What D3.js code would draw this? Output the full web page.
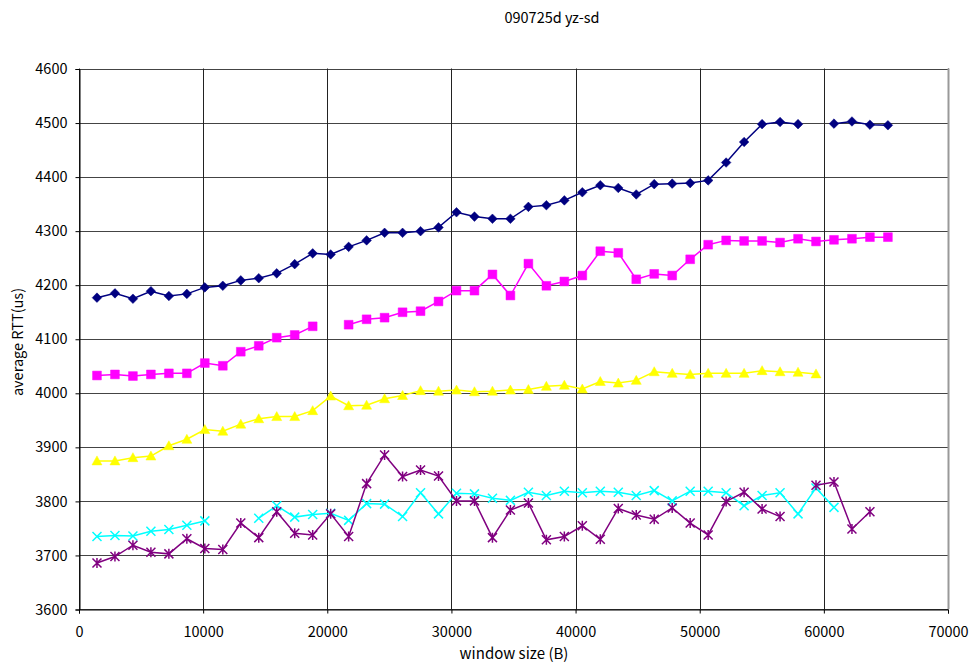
<!DOCTYPE html>
<html>
<head>
<meta charset="utf-8">
<script src="https://cdn.jsdelivr.net/npm/d3@7"></script>
<style>
  body { margin: 0; background: #fff; }
  svg text { font-family: "Noto Sans CJK JP", "Noto Sans", sans-serif; fill: #000; }
</style>
</head>
<body>
<svg id="chart" width="970" height="662"></svg>
<script>
// window sizes (B)
var windowSizes = [1448, 2896, 4344, 5792, 7240, 8688, 10136, 11584, 13032, 14480,
  15928, 17376, 18824, 20272, 21720, 23168, 24616, 26064, 27512, 28960,
  30408, 31856, 33304, 34752, 36200, 37648, 39096, 40544, 41992, 43440,
  44888, 46336, 47784, 49232, 50680, 52128, 53576, 55024, 56472, 57920,
  59368, 60816, 62264, 63712, 65160];

var navyRtt = [4176, 4184, 4174, 4188, 4179, 4183, 4195, 4198, 4208, 4212,
  4221, 4238, 4258, 4256, 4270, 4282, 4296, 4296, 4299, 4306,
  4334, 4326, 4322, 4322, 4344, 4347, 4356, 4371, 4384, 4379,
  4367, 4386, 4387, 4388, 4393, 4426, 4464, 4497, 4501, 4497,
  null, 4498, 4502, 4496, 4495];
var magentaRtt = [4032, 4034, 4031, 4034, 4036, 4036, 4055, 4050, 4076, 4087,
  4102, 4107, 4123, null, 4126, 4136, 4139, 4149, 4151, 4169,
  4189, 4189, 4219, 4180, 4239, 4198, 4206, 4217, 4262, 4259,
  4210, 4220, 4217, 4247, 4274, 4282, 4281, 4281, 4278, 4285,
  4280, 4283, 4285, 4288, 4288];
var yellowRtt = [3874, 3874, 3880, 3883, 3902, 3914, 3932, 3929, 3942, 3952,
  3956, 3956, 3967, 3994, 3976, 3977, 3989, 3995, 4004, 4003,
  4005, 4002, 4003, 4005, 4006, 4012, 4014, 4007, 4021, 4018,
  4023, 4039, 4036, 4034, 4036, 4036, 4036, 4041, 4039, 4038,
  4035, null, null, null, null];
var cyanRtt = [3734, 3736, 3735, 3744, 3747, 3755, 3763, null, null, 3768,
  3791, 3770, 3775, 3777, 3764, 3795, 3794, 3771, 3815, 3776,
  3814, 3813, 3805, 3801, 3816, 3810, 3818, 3815, 3818, 3816,
  3810, 3819, 3800, 3818, 3818, 3815, 3791, 3810, 3815, 3776,
  3824, 3788, null, null, null];
var purpleRtt = [3685, 3697, 3718, 3705, 3702, 3730, 3712, 3710, 3759, 3732,
  3780, 3740, 3737, 3776, 3734, 3832, 3885, 3845, 3857, 3846,
  3800, 3800, 3732, 3783, 3796, 3728, 3734, 3754, 3729, 3786,
  3774, 3766, 3787, 3759, 3737, 3799, 3816, 3785, 3771, null,
  3829, 3835, 3748, 3780, null];

var xTicks = [0, 10000, 20000, 30000, 40000, 50000, 60000, 70000];
var yTicks = [3600, 3700, 3800, 3900, 4000, 4100, 4200, 4300, 4400, 4500, 4600];

var series = [
  {vals: navyRtt, color: "#000080", marker: "diamond"},
  {vals: magentaRtt, color: "#ff00ff", marker: "square"},
  {vals: yellowRtt, color: "#ffff00", marker: "triangle"},
  {vals: cyanRtt, color: "#00ffff", marker: "cross"},
  {vals: purpleRtt, color: "#800080", marker: "star"}
];

var pLeft = 79, pRight = 948, pTop = 68.5, pBottom = 609;
var svg = d3.select("#chart");

var x = d3.scaleLinear().domain([0, 70000]).range([pLeft, pRight]);
var y = d3.scaleLinear().domain([3600, 4600]).range([pBottom, pTop]);

// grid
svg.append("g").selectAll("line").data(yTicks).enter().append("line")
  .attr("x1", pLeft).attr("x2", pRight)
  .attr("y1", function(d){ return Math.round(y(d)) + 0.5; })
  .attr("y2", function(d){ return Math.round(y(d)) + 0.5; })
  .attr("stroke", "#444").attr("stroke-width", 1);
svg.append("g").selectAll("line").data(xTicks).enter().append("line")
  .attr("y1", pTop).attr("y2", pBottom)
  .attr("x1", function(d){ return Math.round(x(d)) + 0.5; })
  .attr("x2", function(d){ return Math.round(x(d)) + 0.5; })
  .attr("stroke", "#222").attr("stroke-width", 1);
// right edge
svg.append("line").attr("x1", pRight + 0.5).attr("x2", pRight + 0.5)
  .attr("y1", pTop).attr("y2", pBottom).attr("stroke", "#999").attr("stroke-width", 2);

// axes
var yAxis = svg.append("g").attr("transform", "translate(" + (pLeft + 0.5) + ",0.5)")
  .call(d3.axisLeft(y).tickValues(yTicks).tickSize(4).tickPadding(8).tickFormat(d3.format("d")));
var xAxis = svg.append("g").attr("transform", "translate(0," + (pBottom + 0.5) + ")")
  .call(d3.axisBottom(x).tickValues(xTicks).tickSize(4).tickPadding(13).tickFormat(d3.format("d")));
svg.selectAll(".domain").attr("stroke", "#000");
svg.selectAll(".tick line").attr("stroke", "#000");
svg.selectAll(".tick text").style("font-size", "14.5px");

// lines and markers
var line = d3.line()
  .defined(function(d){ return d[1] != null; })
  .x(function(d){ return x(d[0]); })
  .y(function(d){ return y(d[1]); });

var shapes = {
  diamond: "M0,-4.8L4.8,0L0,4.8L-4.8,0Z",
  square: "M-4.4,-4.4H4.4V4.4H-4.4Z",
  triangle: "M0,-5L5,4H-5Z",
  cross: "M-4.5,-4.5L4.5,4.5M-4.5,4.5L4.5,-4.5",
  star: "M-4.5,-4.5L4.5,4.5M-4.5,4.5L4.5,-4.5M0,-5V5"
};

series.forEach(function(s) {
  var pts = windowSizes.map(function(w, i){ return [w, s.vals[i]]; });
  svg.append("path").datum(pts)
    .attr("fill", "none").attr("stroke", s.color).attr("stroke-width", 1.5)
    .attr("d", line);
  var stroked = (s.marker == "cross" || s.marker == "star");
  svg.append("g").selectAll("path")
    .data(pts.filter(function(d){ return d[1] != null; }))
    .enter().append("path")
    .attr("transform", function(d){ return "translate(" + x(d[0]) + "," + y(d[1]) + ")"; })
    .attr("d", shapes[s.marker])
    .attr("fill", stroked ? "none" : s.color)
    .attr("stroke", s.color)
    .attr("stroke-width", stroked ? 1.5 : 0.5);
});

// titles
svg.append("text").attr("x", 552).attr("y", 23).attr("text-anchor", "middle")
  .style("font-size", "14.5px").text("090725d yz-sd");
svg.append("text").attr("x", 514).attr("y", 659).attr("text-anchor", "middle")
  .style("font-size", "15px").text("window size (B)");
svg.append("text").attr("transform", "translate(23,342) rotate(-90)")
  .attr("text-anchor", "middle").style("font-size", "14.5px").text("average RTT(us)");
</script>
</body>
</html>
